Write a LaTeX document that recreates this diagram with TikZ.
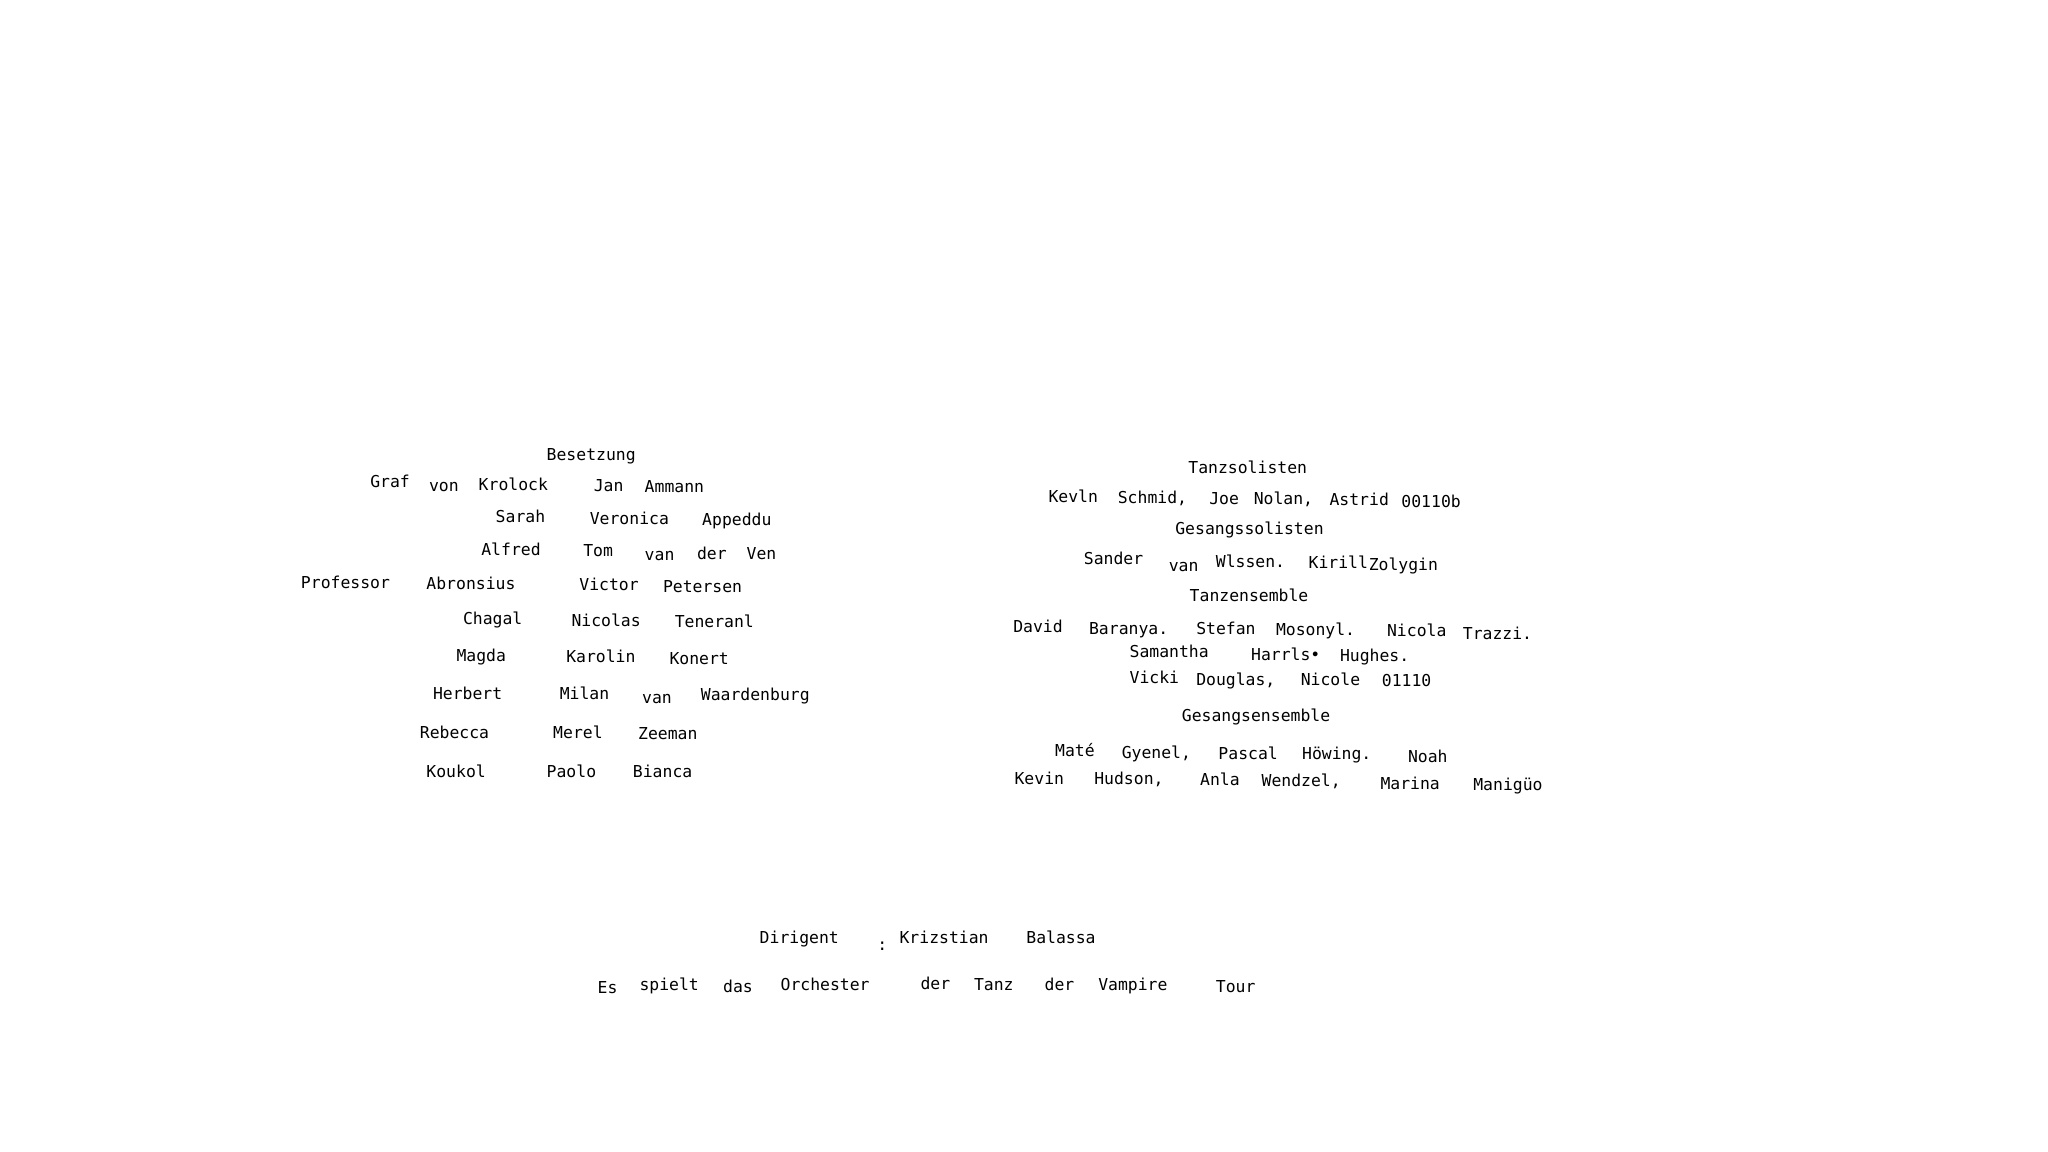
\documentclass[tikz,border=0pt]{standalone}
\usepackage{fontspec}
\setmainfont{DejaVu Sans Mono}
\begin{document}
\begin{tikzpicture}[x=0.6606pt,y=-0.6606pt,
  wort/.style={anchor=mid west,inner sep=0pt,font=\fontsize{8.3}{10}\selectfont}]
\useasboundingbox (0,0) rectangle (1567,881);
\node[wort] (besetzung) at (418,348) {Besetzung};
\node[wort] (graf) at (283,369) {Graf};
\node[wort] (von) at (328,372) {von};
\node[wort] (krolock) at (366,371) {Krolock};
\node[wort] (jan) at (454,372) {Jan};
\node[wort] (ammann) at (493,373) {Ammann};
\node[wort] (sarah) at (379,396) {Sarah};
\node[wort] (veronica) at (451,397) {Veronica};
\node[wort] (appeddu) at (537,398) {Appeddu};
\node[wort] (alfred) at (368,421) {Alfred};
\node[wort] (tom) at (446,422) {Tom};
\node[wort] (vanA) at (493,425) {van};
\node[wort] (derA) at (533,424) {der};
\node[wort] (ven) at (571,424) {Ven};
\node[wort] (professor) at (230,446) {Professor};
\node[wort] (abronsius) at (326,447) {Abronsius};
\node[wort] (victor) at (443,448) {Victor};
\node[wort] (petersen) at (507,449) {Petersen};
\node[wort] (chagal) at (354,474) {Chagal};
\node[wort] (nicolas) at (437,475) {Nicolas};
\node[wort] (teneranl) at (516,476) {Teneranl};
\node[wort] (magda) at (349,502) {Magda};
\node[wort] (karolin) at (433,503) {Karolin};
\node[wort] (konert) at (512,504) {Konert};
\node[wort] (herbert) at (331,531) {Herbert};
\node[wort] (milan) at (428,531) {Milan};
\node[wort] (vanB) at (491,534) {van};
\node[wort] (waardenburg) at (536,532) {Waardenburg};
\node[wort] (rebecca) at (321,561) {Rebecca};
\node[wort] (merel) at (423,561) {Merel};
\node[wort] (zeeman) at (488,562) {Zeeman};
\node[wort] (koukol) at (326,591) {Koukol};
\node[wort] (paolo) at (418,591) {Paolo};
\node[wort] (bianca) at (484,591) {Bianca};
\node[wort] (tanzsolisten) at (909,358) {Tanzsolisten};
\node[wort] (kevln) at (802,380) {Kevln};
\node[wort] (schmid) at (855,381) {Schmid,};
\node[wort] (joe) at (925,382) {Joe};
\node[wort] (nolan) at (959,382) {Nolan,};
\node[wort] (astrid) at (1017,383) {Astrid};
\node[wort] (astridnn) at (1072,384) {00110b};
\node[wort] (gesangssolisten) at (899,405) {Gesangssolisten};
\node[wort] (sander) at (829,428) {Sander};
\node[wort] (vanC) at (894,433) {van};
\node[wort] (wlssen) at (930,430) {Wlssen.};
\node[wort] (kirill) at (1001,431) {Kirill};
\node[wort] (zolygin) at (1047,432) {Zolygin};
\node[wort] (tanzensemble) at (910,456) {Tanzensemble};
\node[wort] (david) at (775,480) {David};
\node[wort] (baranya) at (833,481) {Baranya.};
\node[wort] (stefan) at (915,481) {Stefan};
\node[wort] (mosonyl) at (976,482) {Mosonyl.};
\node[wort] (nicola) at (1061,483) {Nicola};
\node[wort] (trazzi) at (1119,485) {Trazzi.};
\node[wort] (samantha) at (864,499) {Samantha};
\node[wort] (harrls) at (957,501) {Harrls•};
\node[wort] (hughes) at (1025,502) {Hughes.};
\node[wort] (vicki) at (864,519) {Vicki};
\node[wort] (douglas) at (915,520) {Douglas,};
\node[wort] (nicole) at (995,520) {Nicole};
\node[wort] (nicolenn) at (1057,521) {01110};
\node[wort] (gesangsensemble) at (904,548) {Gesangsensemble};
\node[wort] (mate) at (807,575) {Maté};
\node[wort] (gyenel) at (858,576) {Gyenel,};
\node[wort] (pascal) at (932,577) {Pascal};
\node[wort] (howing) at (996,577) {Höwing.};
\node[wort] (noah) at (1077,579) {Noah};
\node[wort] (kevin) at (776,596) {Kevin};
\node[wort] (hudson) at (837,596) {Hudson,};
\node[wort] (anla) at (918,597) {Anla};
\node[wort] (wendzel) at (965,598) {Wendzel,};
\node[wort] (marina) at (1056,600) {Marina};
\node[wort] (manigueo) at (1127,601) {Manigüo};
\node[wort] (dirigent) at (581,718) {Dirigent};
\node[wort] (doppelpunkt) at (671,723) {:};
\node[wort] (krizstian) at (688,718) {Krizstian};
\node[wort] (balassa) at (785,718) {Balassa};
\node[wort] (es) at (457,756) {Es};
\node[wort] (spielt) at (489,754) {spielt};
\node[wort] (das) at (553,755) {das};
\node[wort] (orchester) at (597,754) {Orchester};
\node[wort] (derB) at (704,753) {der};
\node[wort] (tanz) at (745,754) {Tanz};
\node[wort] (derC) at (799,754) {der};
\node[wort] (vampire) at (840,754) {Vampire};
\node[wort] (tour) at (930,755) {Tour};
\end{tikzpicture}
\end{document}
